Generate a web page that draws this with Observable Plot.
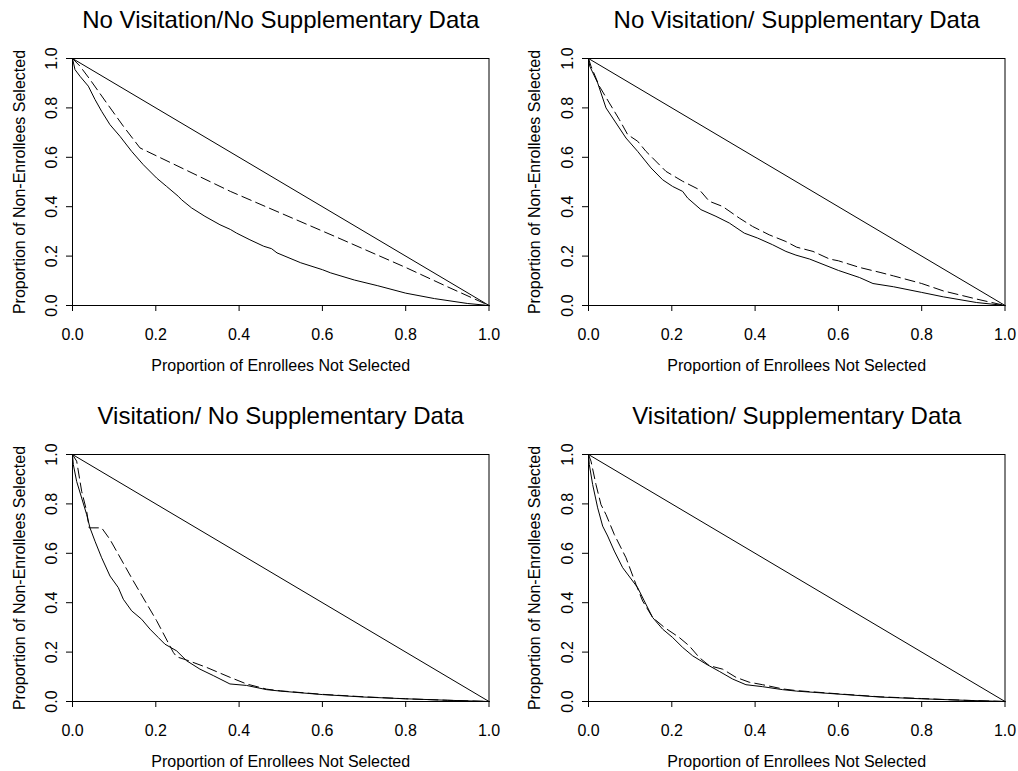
<!DOCTYPE html>
<html>
<head>
<meta charset="utf-8">
<script src="https://cdn.jsdelivr.net/npm/d3@7"></script>
<script src="https://cdn.jsdelivr.net/npm/@observablehq/plot@0.6"></script>
<style>
  html, body { margin: 0; padding: 0; background: #fff; }
  #wrap { position: relative; width: 1018px; height: 771px; overflow: hidden; }
  .panel { position: absolute; }
  .panel svg { display: block; }
</style>
</head>
<body>
<div id="wrap"></div>
<script>
// ---- Data ----
const titles = [
  "No Visitation/No Supplementary Data",
  "No Visitation/ Supplementary Data",
  "Visitation/ No Supplementary Data",
  "Visitation/ Supplementary Data"
];
const xLabel = "Proportion of Enrollees Not Selected";
const yLabel = "Proportion of Non-Enrollees Selected";
const xTicks = [0, 0.2, 0.4, 0.6, 0.8, 1.0];
const yTicks = [0, 0.2, 0.4, 0.6, 0.8, 1.0];
const diagonal = [[0, 1], [1, 0]];

const nvnsSolid = [[0,1],[0.006,0.955],[0.018,0.928],[0.038,0.888],[0.054,0.834],[0.070,0.786],[0.090,0.732],[0.114,0.685],[0.142,0.624],[0.170,0.570],[0.202,0.516],[0.226,0.482],[0.254,0.442],[0.262,0.428],[0.286,0.395],[0.318,0.361],[0.354,0.327],[0.379,0.308],[0.394,0.293],[0.426,0.266],[0.459,0.240],[0.478,0.230],[0.491,0.213],[0.548,0.173],[0.6,0.145],[0.62,0.132],[0.677,0.103],[0.733,0.080],[0.8,0.050],[0.869,0.028],[0.949,0.008],[1,0]];
const nvnsDashed = [[0,1],[0.018,0.969],[0.042,0.915],[0.082,0.820],[0.122,0.726],[0.162,0.638],[0.379,0.462],[0.635,0.276],[0.8,0.154],[0.9,0.076],[1,0]];

const nvsSolid = [[0,1],[0.003,0.969],[0.022,0.901],[0.042,0.800],[0.066,0.739],[0.090,0.678],[0.118,0.624],[0.150,0.557],[0.178,0.509],[0.202,0.482],[0.226,0.462],[0.238,0.435],[0.270,0.388],[0.306,0.361],[0.338,0.334],[0.374,0.293],[0.406,0.273],[0.442,0.246],[0.474,0.219],[0.498,0.204],[0.531,0.188],[0.6,0.142],[0.651,0.113],[0.683,0.089],[0.732,0.076],[0.8,0.053],[0.852,0.035],[0.932,0.012],[1,0]];
const nvsDashed = [[0,1],[0.006,0.969],[0.026,0.888],[0.050,0.820],[0.074,0.753],[0.094,0.692],[0.118,0.665],[0.138,0.624],[0.150,0.604],[0.186,0.543],[0.226,0.503],[0.266,0.469],[0.290,0.422],[0.322,0.401],[0.362,0.354],[0.394,0.320],[0.434,0.286],[0.474,0.259],[0.5,0.236],[0.539,0.219],[0.579,0.188],[0.6,0.181],[0.651,0.154],[0.700,0.134],[0.732,0.120],[0.8,0.089],[0.852,0.059],[0.932,0.026],[1,0]];

const vnsSolid = [[0,1],[0.002,0.959],[0.010,0.891],[0.022,0.824],[0.034,0.757],[0.042,0.703],[0.054,0.649],[0.070,0.582],[0.090,0.508],[0.110,0.461],[0.122,0.414],[0.142,0.367],[0.166,0.333],[0.186,0.293],[0.206,0.259],[0.222,0.232],[0.250,0.205],[0.274,0.165],[0.306,0.131],[0.338,0.105],[0.378,0.071],[0.418,0.065],[0.466,0.048],[0.5,0.042],[0.6,0.028],[0.7,0.018],[0.8,0.011],[0.9,0.005],[1,0]];
const vnsDashed = [[0,1],[0.010,0.973],[0.022,0.851],[0.034,0.771],[0.040,0.703],[0.070,0.703],[0.090,0.656],[0.146,0.488],[0.202,0.327],[0.242,0.199],[0.250,0.181],[0.274,0.168],[0.322,0.138],[0.378,0.098],[0.418,0.071],[0.466,0.050],[0.5,0.043],[0.6,0.029],[0.7,0.019],[0.8,0.011],[0.9,0.005],[1,0]];

const vsSolid = [[0,1],[0.002,0.959],[0.010,0.878],[0.022,0.784],[0.034,0.710],[0.046,0.670],[0.062,0.609],[0.082,0.542],[0.106,0.488],[0.118,0.461],[0.134,0.407],[0.154,0.340],[0.178,0.293],[0.202,0.259],[0.226,0.219],[0.250,0.185],[0.282,0.152],[0.314,0.122],[0.346,0.091],[0.378,0.068],[0.418,0.060],[0.466,0.048],[0.5,0.042],[0.6,0.030],[0.7,0.018],[0.8,0.011],[0.9,0.005],[1,0]];
const vsDashed = [[0,1],[0.006,0.973],[0.018,0.878],[0.030,0.797],[0.042,0.757],[0.062,0.676],[0.090,0.582],[0.114,0.474],[0.130,0.407],[0.154,0.340],[0.182,0.300],[0.218,0.259],[0.242,0.225],[0.266,0.178],[0.290,0.145],[0.322,0.131],[0.354,0.098],[0.386,0.078],[0.418,0.068],[0.466,0.051],[0.5,0.044],[0.6,0.031],[0.7,0.019],[0.8,0.012],[0.9,0.005],[1,0]];

const panelSolid = [nvnsSolid, nvsSolid, vnsSolid, vsSolid];
const panelDashed = [nvnsDashed, nvsDashed, vnsDashed, vsDashed];

// ---- Layout ----
const font = "'Liberation Sans', Arial, Helvetica, sans-serif";
const fmt = d3.format(".1f");
const layouts = [
  {left: 0,   top: 0,   h: 385, mL: 72, mR: 20.5, mT: 58, mB: 80},
  {left: 509, top: 0,   h: 385, mL: 79, mR: 13.5, mT: 58, mB: 80},
  {left: 0,   top: 385, h: 386, mL: 72, mR: 20.5, mT: 69, mB: 70},
  {left: 509, top: 385, h: 386, mL: 79, mR: 13.5, mT: 69, mB: 70}
];

const wrap = document.getElementById("wrap");
layouts.forEach((L, i) => {
  const chart = Plot.plot({
    width: 509,
    height: L.h,
    marginLeft: L.mL,
    marginRight: L.mR,
    marginTop: L.mT,
    marginBottom: L.mB,
    x: {domain: [0, 1]},
    y: {domain: [0, 1]},
    style: {fontFamily: font, fontSize: "16px", color: "#000", background: "#fff", overflow: "visible"},
    marks: [
      Plot.line(diagonal, {x: d => d[0], y: d => d[1], stroke: "#000", strokeWidth: 1}),
      Plot.line(panelSolid[i], {x: d => d[0], y: d => d[1], stroke: "#000", strokeWidth: 1}),
      Plot.line(panelDashed[i], {x: d => d[0], y: d => d[1], stroke: "#000", strokeWidth: 1, strokeDasharray: "10,5"}),
      Plot.frame({stroke: "#000", strokeWidth: 1}),
      Plot.axisX({ticks: xTicks, tickFormat: fmt, tickSize: 6, tickPadding: 17, fontSize: 16, label: null, stroke: "#000", fill: "#000"}),
      Plot.axisY({ticks: yTicks, tickSize: 6, fill: "none", label: null, stroke: "#000"}),
      Plot.text(yTicks, {y: d => d, text: d => fmt(d), frameAnchor: "left", textAnchor: "middle", lineAnchor: "middle", rotate: -90, dx: -21, fontSize: 16, fill: "#000"}),
      Plot.text([yLabel], {text: d => d, frameAnchor: "left", textAnchor: "middle", lineAnchor: "middle", rotate: -90, dx: -L.mL + 19 + (i % 2 ? 6 : 0), fontSize: 16, fill: "#000"}),
      Plot.text([xLabel], {text: d => d, frameAnchor: "bottom", textAnchor: "middle", lineAnchor: "middle", dy: 60, fontSize: 16, fill: "#000"}),
      Plot.text([titles[i]], {text: d => d, frameAnchor: "top", textAnchor: "middle", lineAnchor: "middle", dy: -38.5, fontSize: 24, fill: "#000"})
    ]
  });
  const div = document.createElement("div");
  div.className = "panel";
  div.style.left = L.left + "px";
  div.style.top = L.top + "px";
  div.appendChild(chart);
  wrap.appendChild(div);
});
</script>
</body>
</html>
